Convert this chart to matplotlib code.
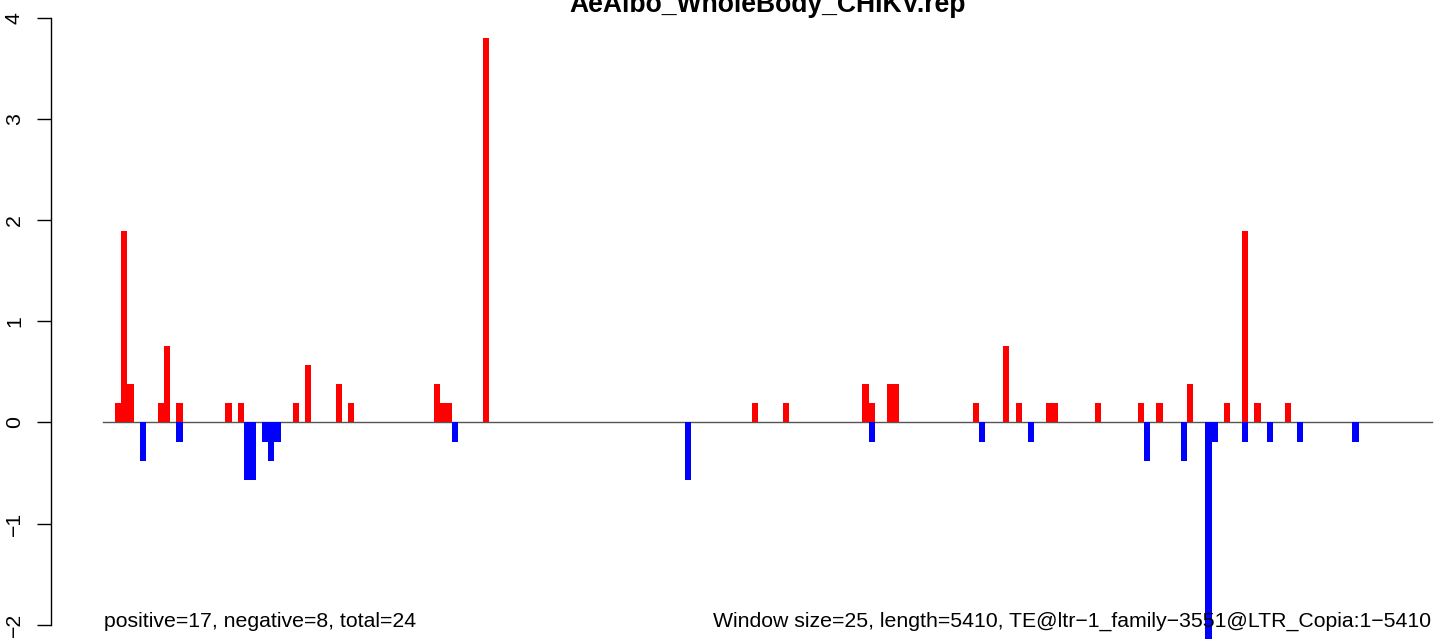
import numpy as np
import matplotlib
matplotlib.use("Agg")
import matplotlib.pyplot as plt

plt.rcParams['font.family'] = ['Liberation Sans', 'DejaVu Sans']

# ---- Data (window index, value) ----
title = "AeAlbo_WholeBody_CHIKV.rep"
n_windows = 217

pos_windows = [2, 3, 4, 9, 10, 12, 20, 22, 31, 33, 38, 40, 54, 55, 56, 62,
               106, 111, 124, 125, 128, 129, 142, 147, 149, 154, 155, 162,
               169, 172, 177, 183, 186, 188, 193]
pos_values = [0.19, 1.9, 0.38, 0.19, 0.76, 0.19, 0.19, 0.19, 0.19, 0.57, 0.38, 0.19,
              0.38, 0.19, 0.19, 3.81,
              0.19, 0.19, 0.38, 0.19, 0.38, 0.38, 0.19, 0.76, 0.19, 0.19, 0.19, 0.19,
              0.19, 0.19, 0.38, 0.19, 1.9, 0.19, 0.19]

neg_windows = [6, 12, 23, 24, 26, 27, 28, 57, 95, 125, 143, 151, 170, 176,
               180, 181, 186, 190, 195, 204]
neg_values = [-0.38, -0.19, -0.57, -0.57, -0.19, -0.38, -0.19, -0.19, -0.57, -0.19,
              -0.19, -0.19, -0.38, -0.38, -2.14, -0.19, -0.19, -0.19, -0.19, -0.19]

yticks = [-2, -1, 0, 1, 2, 3, 4]
left_note = "positive=17, negative=8, total=24"
right_note = "Window size=25, length=5410, TE@ltr\u22121_family\u22123551@LTR_Copia:1\u22125410"

# ---- Figure ----
W, H = 1444, 641
fig = plt.figure(figsize=(W / 100, H / 100), dpi=100)

px = 1329 / n_windows           # pixels per window
x0 = 103                        # pixel of window 0
ax = fig.add_axes([51 / W, 0, 1 - 51 / W, 1])
ax.set_xlim((51 - x0) / px, (W - x0) / px)
ax.set_ylim(-(H - 422.5) / 101, 422.5 / 101)

ax.plot([0, n_windows], [0, 0], color='#555555', lw=1.0, zorder=1)
ax.bar(pos_windows, pos_values, width=1, align='edge', color='#ff0000', lw=0, zorder=2)
ax.bar(neg_windows, neg_values, width=1, align='edge', color='#0000ff', lw=0, zorder=2)

for s in ['top', 'right', 'bottom']:
    ax.spines[s].set_visible(False)
ax.spines['left'].set_bounds(-2, 4)
ax.spines['left'].set_linewidth(1.0)
ax.set_xticks([])
ax.set_yticks(yticks)
ax.set_yticklabels([str(t).replace('-', '\u2212') for t in yticks],
                   rotation=90, va='center', fontsize=15.3)
ax.tick_params(axis='y', length=10, width=1.0, pad=9.5)
ax.patch.set_alpha(0)

# title sits partly above the top edge, as in the original
fig.text(768 / W, 1 - 12.5 / H, title, ha='center', va='baseline',
         fontsize=19.1, fontweight='bold')
fig.text(104 / W, (H - 627) / H, left_note, ha='left', va='baseline', fontsize=15.3)
fig.text(1431 / W, (H - 627) / H, right_note, ha='right', va='baseline', fontsize=15.3)

fig.savefig("out.png", dpi=100)
